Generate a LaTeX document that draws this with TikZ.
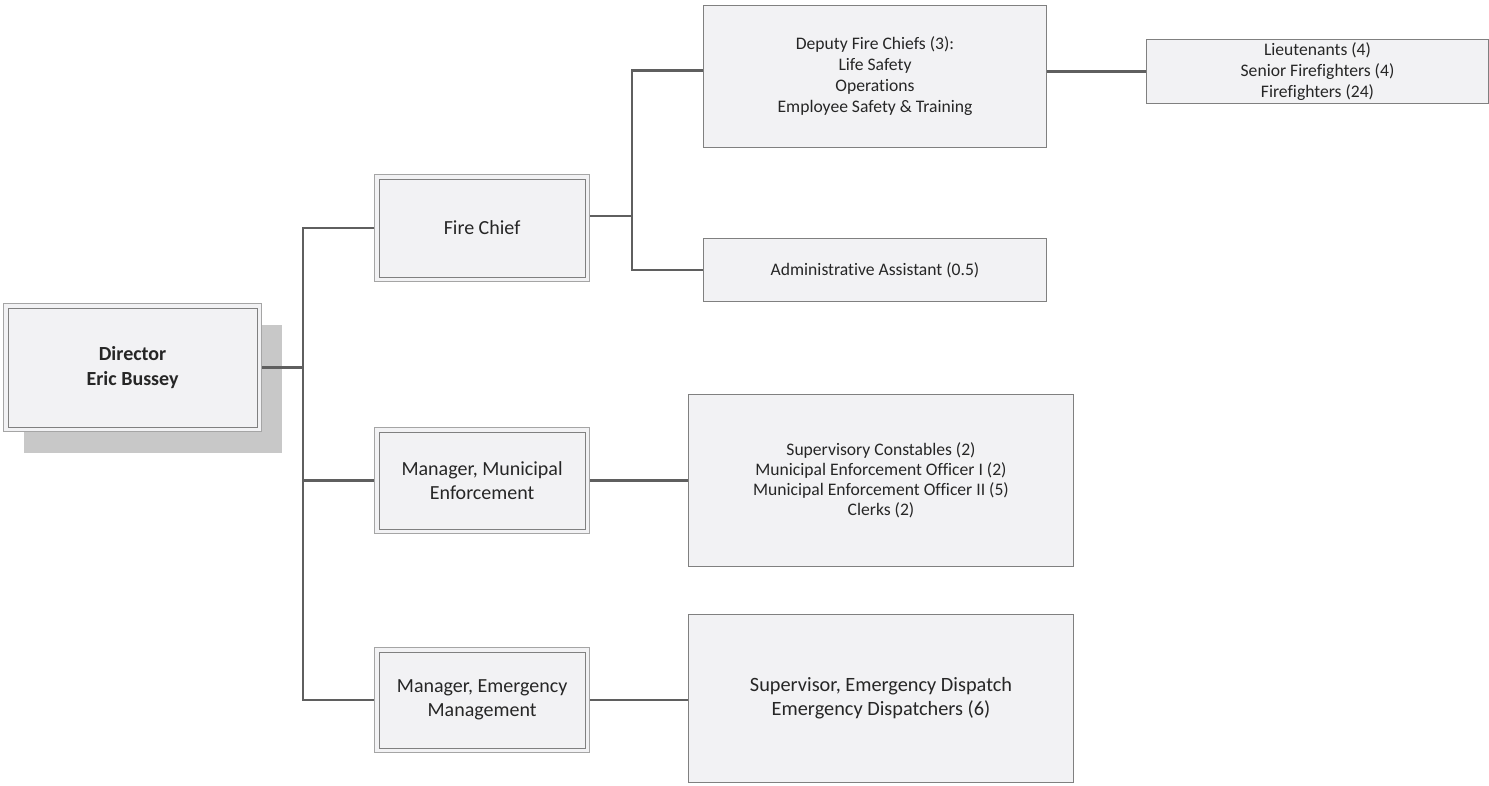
\documentclass[tikz,border=0pt]{standalone}
\usepackage{fontspec}
\setmainfont{Carlito}[Ligatures={NoCommon,TeX}]
\definecolor{boxfill}{RGB}{242,242,244}
\definecolor{boxline}{RGB}{128,128,128}
\definecolor{outerline}{RGB}{165,165,165}
\definecolor{connline}{RGB}{95,95,95}
\definecolor{shadowc}{RGB}{200,200,200}
\definecolor{txt}{RGB}{38,38,38}
\tikzset{
  x=1pt,y=-1pt,
  plainbox/.style={draw=boxline,line width=1pt,fill=boxfill,anchor=north west,inner sep=0pt,align=center,text=txt},
  dblbox/.style={draw=outerline,line width=1.2pt,fill=boxfill,anchor=north west,inner sep=0pt,align=center,text=txt,
    path picture={\draw[boxline,line width=1pt]
      ([xshift=4.5pt,yshift=-4.5pt]path picture bounding box.north west) rectangle
      ([xshift=-4.5pt,yshift=4.5pt]path picture bounding box.south east);}},
  conn/.style={draw=connline,line width=2.4pt},
  bigtxt/.style={font=\fontsize{20}{24}\selectfont},
  smalltxt/.style={font=\fontsize{17.6}{21}\selectfont},
}
\begin{document}
\begin{tikzpicture}
\useasboundingbox (0,0) rectangle (1489,785);
% shadow of director box
\fill[shadowc] (24,325) rectangle (282,453);
% boxes
\node[dblbox,minimum width=258pt,minimum height=128pt,font=\bfseries\fontsize{20}{25}\selectfont] (dir) at (3,303) {Director\\Eric Bussey};
\node[dblbox,bigtxt,minimum width=215pt,minimum height=107pt] (fc) at (374,174) {Fire Chief};
\node[dblbox,bigtxt,minimum width=215pt,minimum height=106pt] (mm) at (374,427) {Manager, Municipal\\Enforcement};
\node[dblbox,bigtxt,minimum width=215pt,minimum height=105pt] (em) at (374,647) {Manager, Emergency\\Management};
\node[plainbox,smalltxt,minimum width=343pt,minimum height=142pt] (dep) at (703,5) {Deputy Fire Chiefs (3):\\Life Safety\\Operations\\Employee Safety \& Training};
\node[plainbox,smalltxt,minimum width=343pt,minimum height=63pt] (adm) at (703,238) {Administrative Assistant (0.5)};
\node[plainbox,smalltxt,minimum width=342pt,minimum height=64pt] (lt) at (1146,39) {Lieutenants (4)\\Senior Firefighters (4)\\Firefighters (24)};
\node[plainbox,minimum width=385pt,minimum height=172pt,font=\fontsize{17.6}{20}\selectfont] (sup) at (688,394) {Supervisory Constables (2)\\Municipal Enforcement Officer I (2)\\Municipal Enforcement Officer II (5)\\Clerks (2)};
\node[plainbox,minimum width=385pt,minimum height=168pt,font=\fontsize{20.3}{24}\selectfont] (disp) at (688,614) {Supervisor, Emergency Dispatch\\Emergency Dispatchers (6)};
% connectors
\coordinate (bus) at (303,367);
\coordinate (fcbus) at (632,215);
\draw[conn] (dir.east) -- (dir.east -| bus);
\draw[conn] (fc.west) -- (fc.west -| bus) -- (em.west -| bus) -- (em.west);
\draw[conn] (mm.west) -- (mm.west -| bus);
\draw[conn] ([yshift=12pt]fc.east) -- ([yshift=12pt]fc.east -| fcbus);
\draw[conn] ([yshift=6pt]dep.west) -- ([yshift=6pt]dep.west -| fcbus) -- (adm.west -| fcbus) -- (adm.west);
\draw[conn] (lt.west) -- (lt.west -| dep.east);
\draw[conn] (mm.east) -- (mm.east -| sup.west);
\draw[conn] (em.east) -- (em.east -| disp.west);
\end{tikzpicture}
\end{document}
